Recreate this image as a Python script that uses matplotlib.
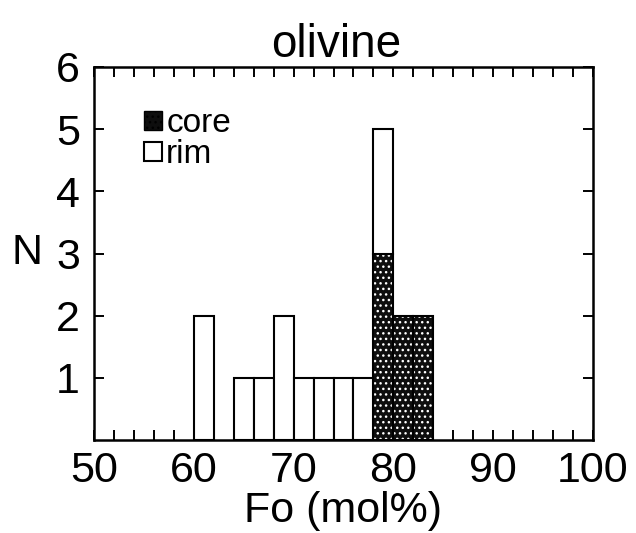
import matplotlib
matplotlib.use("Agg")
import matplotlib.pyplot as plt
from matplotlib.ticker import MultipleLocator, FixedLocator
from matplotlib.patches import Patch

plt.rcParams['font.family'] = ['Liberation Sans', 'DejaVu Sans']

# ---- data ----
bin_width = 2
core_bins = [78, 80, 82]          # left edge of Fo bin (mol%)
core_counts = [3, 2, 2]
rim_bins = [60, 64, 66, 68, 70, 72, 74, 76, 78]
rim_counts = [2, 1, 1, 2, 1, 1, 1, 1, 2]
x_ticks = [50, 60, 70, 80, 90, 100]
y_ticks = [1, 2, 3, 4, 5, 6]
title = "olivine"
xlabel = "Fo (mol%)"
ylabel = "N"

fig = plt.figure(figsize=(6.36, 5.33), dpi=100)
ax = fig.add_axes([94/636, 1-440/533, 499/636, 373/533])

# rim bars stacked on top of core where they share a bin
core_lookup = dict(zip(core_bins, core_counts))
rim_bottom = [core_lookup.get(b, 0) for b in rim_bins]

# core: dark stippled fill
ax.bar(core_bins, core_counts, width=bin_width, align='edge',
       facecolor='#0e0e0e', edgecolor='white', hatch='...', linewidth=0, zorder=2)
ax.bar(core_bins, core_counts, width=bin_width, align='edge',
       fill=False, edgecolor='black', linewidth=1.5, zorder=3)
# rim: open bars
ax.bar(rim_bins, rim_counts, width=bin_width, bottom=rim_bottom, align='edge',
       facecolor='white', edgecolor='black', linewidth=1.5, zorder=3)

ax.set_xlim(50, 100)
ax.set_ylim(0, 6)
ax.xaxis.set_major_locator(FixedLocator(x_ticks))
ax.xaxis.set_minor_locator(MultipleLocator(2))
ax.yaxis.set_major_locator(FixedLocator(y_ticks))

ax.tick_params(axis='both', which='both', direction='in', top=True, right=True,
               length=7, width=1.4, labelsize=31, pad=8)
ax.tick_params(axis='y', pad=10)
for s in ax.spines.values():
    s.set_linewidth(1.8)

ax.set_title(title, fontsize=33, pad=6, x=0.485)
ax.set_xlabel(xlabel, fontsize=31, labelpad=0)
ax.set_ylabel(ylabel, fontsize=31, rotation=0, va='center', ha='center')
ax.yaxis.set_label_coords(-0.135, 0.5)

handles = [Patch(facecolor='#0e0e0e', edgecolor='black', hatch='...'),
           Patch(facecolor='white', edgecolor='black', linewidth=1.5)]
leg = ax.legend(handles, ['core', 'rim'], loc='upper left', bbox_to_anchor=(0.1, 0.89),
                frameon=False, fontsize=24, handlelength=0.55, handleheight=0.5,
                handletextpad=0.12, labelspacing=0.0, borderpad=0, borderaxespad=0)

fig.savefig("out.png", dpi=100)
